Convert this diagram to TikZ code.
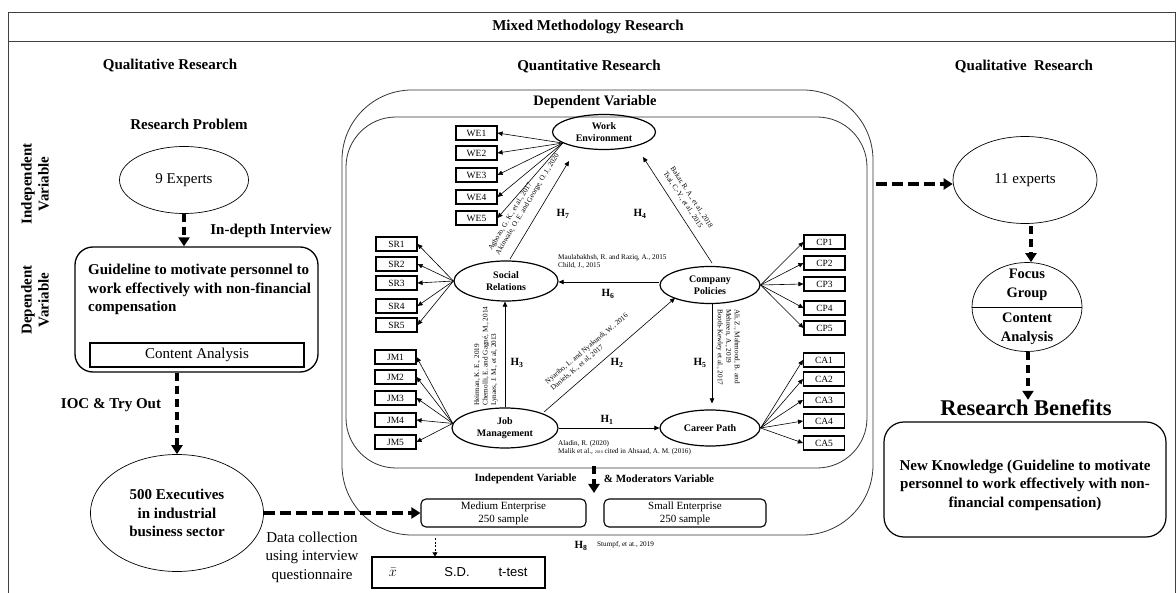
\documentclass[tikz,border=0pt]{standalone}
\usepackage{fontspec}
\setmainfont{Liberation Serif}
\newfontfamily\arialf{Liberation Sans}
\usetikzlibrary{shapes.geometric,arrows.meta,calc}
\newcommand\szXV{\fontsize{15}{18.5}\selectfont}
\newcommand\szXIV{\fontsize{14.5}{17}\selectfont}
\newcommand\szXI{\fontsize{11}{13}\selectfont}
\newcommand\szX{\fontsize{10}{12}\selectfont}
\newcommand\szIX{\fontsize{9.5}{11}\selectfont}
\newcommand\szcite{\fontsize{7.2}{8.5}\selectfont}
\newcommand\szbig{\fontsize{22.5}{26}\selectfont}
\begin{document}
\begin{tikzpicture}[x=1pt,y=-1pt,
  txt/.style={inner sep=0pt},
  hd/.style={inner sep=0pt,font=\szXV\bfseries},
  oval/.style={ellipse,draw,line width=0.7pt,inner sep=0pt,align=center},
  lat/.style={ellipse,draw,line width=1.2pt,inner sep=0pt,align=center,font=\szX\bfseries},
  ind/.style={draw,line width=1.1pt,minimum width=41pt,minimum height=14pt,inner sep=0pt,font=\szIX},
  marrow/.style={line width=0.6pt,-{Triangle[length=5pt,width=4.5pt]}},
  darrow/.style={line width=3.5pt,dash pattern=on 8pt off 5pt,-{Triangle[length=9pt,width=11pt]}},
  harrow/.style={line width=3.5pt,dash pattern=on 11pt off 5pt,-{Triangle[length=9pt,width=11pt]}},
  cite/.style={inner sep=0pt,font=\szcite,align=left},
  hlab/.style={inner sep=0pt,font=\szXI\bfseries},
  ebox/.style={draw,line width=1.1pt,rounded corners=5pt,minimum width=165pt,minimum height=28pt,inner sep=0pt,align=center,font=\szXI}
]
\useasboundingbox (0,0) rectangle (1176,593);
% frame
\draw[line width=1pt,black!75] (8,593) -- (8,13) -- (1175,13) -- (1175,593);
\draw[line width=1pt,black!75] (8,42) -- (1175,42);
\node[hd] (title) at (588,27) {Mixed Methodology Research};
\node[hd] (qual1) at (170,66) {Qualitative Research};
\node[hd] (quant) at (589,67) {Quantitative Research};
\node[hd] (qual2) at (1024,67) {Qualitative\ \ Research};

% left column
\node[hd] (rp) at (189,124) {Research Problem};
\node[hd,rotate=90,align=center,font=\fontsize{15}{17}\selectfont\bfseries] (indlab) at (35,184) {Independent\\Variable};
\node[hd,rotate=90,align=center,font=\fontsize{15}{17}\selectfont\bfseries] (deplab) at (35,300) {Dependent\\Variable};
\node[oval,minimum width=129pt,minimum height=67pt,font=\szXV] (exp9) at (184,180) {9 Experts};
\node[hd] (indepth) at (271,231) {In-depth Interview};
\node[draw,line width=1.3pt,rounded corners=18pt,minimum width=243pt,minimum height=125pt] (guide) at (196.5,309.5) {};
\node[txt,anchor=base west,align=left,font=\szXV\bfseries] (guidetxt) at (88,312) {Guideline to motivate personnel to\\work effectively with non-financial\\compensation};
\node[draw,line width=1.1pt,minimum width=214pt,minimum height=24pt,inner sep=0pt,font=\szXV] (cabox) at (197,355) {Content Analysis};
\node[hd] (ioc) at (111,405) {IOC \& Try Out};
\node[oval,minimum width=173pt,minimum height=117pt,font=\szXV\bfseries] (exec) at (177,513) {500 Executives\\in industrial\\business sector};
\node[txt,align=center,font=\szXV] (datacol) at (312,557) {Data collection\\using interview\\questionnaire};
\node[draw,line width=1.1pt,minimum width=173pt,minimum height=31pt,inner sep=0pt] (stats) at (458.5,572.5) {};
\node[txt,font=\szXV] (xbar) at (393,572) {$\bar{x}$};
\node[txt,font=\arialf\fontsize{13}{15}\selectfont] (sd) at (457,572) {S.D.};
\node[txt,font=\arialf\fontsize{13}{15}\selectfont] (ttest) at (513,572) {t-test};

\draw[darrow] (exp9.south) -- (exp9.south |- guide.north);
\draw[darrow] (exec.north |- guide.south) -- (exec.north);

% central boxes
\node[draw,line width=0.8pt,black!80,rounded corners=70pt,minimum width=531pt,minimum height=445pt] (outer) at (607.5,312.5) {};
\node[draw,line width=0.8pt,black!80,rounded corners=50pt,minimum width=521pt,minimum height=351pt] (inner) at (606.5,292.5) {};
\node[txt,font=\szXIV\bfseries] (dvlab) at (595,102) {Dependent Variable};

% latent variables
\node[lat,minimum width=103pt,minimum height=35pt] (we) at (604,132) {Work\\Environment};
\node[lat,minimum width=104pt,minimum height=40pt] (sr) at (506,281) {Social\\Relations};
\node[lat,minimum width=106pt,minimum height=40pt] (jm) at (505,428) {Job\\Management};
\node[lat,minimum width=100pt,minimum height=37pt] (cp) at (710,285) {Company\\Policies};
\node[lat,minimum width=100pt,minimum height=36pt] (cpath) at (710,428) {Career Path};

% indicators
\foreach \i/\y in {1/133,2/153,3/175,4/197,5/218} {\node[ind] (we\i) at (476.5,\y) {WE\i};}
\foreach \i/\y in {1/244,2/264,3/283,4/306,5/325} {\node[ind] (sr\i) at (396.5,\y) {SR\i};}
\foreach \i/\y in {1/357,2/377,3/398,4/420,5/442} {\node[ind] (jm\i) at (395.5,\y) {JM\i};}
\foreach \i/\y in {1/242,2/263,3/284,4/308,5/328} {\node[ind] (cp\i) at (824.5,\y) {CP\i};}
\foreach \i/\y in {1/360,2/379,3/400,4/421,5/443} {\node[ind] (ca\i) at (824,\y) {CA\i};}
\foreach \i in {1,...,5} {
  \draw[marrow] (we.195) -- (we\i.east);
  \draw[marrow] (sr.west) -- (sr\i.east);
  \draw[marrow] (jm.175) -- (jm\i.east);
  \draw[marrow] (cp.east) -- (cp\i.west);
  \draw[marrow] (cpath.east) -- (ca\i.west);
}

% structural paths
\draw[marrow] ($(sr.center)+(4,-22)$) -- ($(we.center)+(-35,29)$);
\draw[marrow] ($(cp.center)+(2,-22)$) -- ($(we.center)+(39,25)$);
\draw[marrow] ($(cp.west)+(0,-3)$) -- ($(sr.east)+(0,1)$);
\draw[marrow] (jm.north) -- (jm.north |- sr.south);
\draw[marrow] ($(jm.center)+(39,-16)$) -- ($(cp.center)+(-35,13)$);
\draw[marrow] ($(cp.south)+(2,0)$) -- ($(cpath.north)+(2,-6)$);
\draw[marrow] (jm.east) -- (cpath.west);

% hypothesis labels
\node[hlab] (h7) at (563,214) {H\textsubscript{7}};
\node[hlab] (h4) at (640,214) {H\textsubscript{4}};
\node[hlab] (h6) at (608,294) {H\textsubscript{6}};
\node[hlab] (h3) at (517,363) {H\textsubscript{3}};
\node[hlab] (h2) at (617,363) {H\textsubscript{2}};
\node[hlab] (h5) at (700,363) {H\textsubscript{5}};
\node[hlab] (h1) at (607,420) {H\textsubscript{1}};

% citations
\node[cite,rotate=59] (c7) at (524,202) {Agbozo, G. K., et al., 2017\\Akinwale, O. E. and George, O. J., 2020};
\node[cite,rotate=-57] (c4) at (688,200) {Bakar, R. A., et al., 2018\\Tsai, C.-Y., et al., 2015};
\node[cite,anchor=north west] (c6) at (558,254) {Maulabakhsh, R. and Raziq, A., 2015\\Child, J., 2015};
\node[cite,rotate=90,anchor=west] (c3) at (486,406) {Heirman, K. E., 2019\\Chemolli, E. and Gagné, M., 2014\\Lynaes, J. M., et al, 2013};
\node[cite,rotate=40,anchor=west] (c2) at (549,386) {Nyaribo, L. and Nyakundi, W., 2016\\Daniels, K., et al, 2017};
\node[cite,rotate=-90,anchor=west] (c5) at (728,309) {Ali, Z., Mahmood, B. and\\Mehreen, A., 2019\\Booth-Kewley et al., 2017};
\node[cite,anchor=north west] (c1) at (558,440) {Aladin, R. (2020)\\Malik et al., {\fontsize{4}{5}\selectfont 2010} cited in Ahsaad, A. M. (2016)};

% moderators
\node[txt,font=\szXI\bfseries] (ivlab) at (525.5,479) {Independent Variable};
\node[txt,font=\szXI\bfseries] (modlab) at (659,479) {\& Moderators Variable};
\coordinate (ivA) at (594,466);
\coordinate (ivB) at (594,493);
\draw[darrow] (ivA) -- (ivB);
\node[ebox] (med) at (503.5,513) {Medium Enterprise\\250 sample};
\node[ebox,minimum width=162pt] (small) at (685,513) {Small Enterprise\\250 sample};
\node[hlab] (h8) at (581,546) {H\textsubscript{8}};
\node[cite,anchor=west] (c8) at (597,545) {Stumpf, et at., 2019};
\draw[harrow] (exec.east |- med.west) -- (med.west);
\coordinate (dotA) at (435,538);
\draw[line width=1pt,dash pattern=on 2pt off 1.5pt,-{Triangle[length=4pt,width=5pt]}] (dotA) -- (dotA |- stats.north);

% right column
\node[oval,minimum width=144pt,minimum height=87pt,font=\szXV] (exp11) at (1025,180) {11 experts};
\draw[harrow,shorten <=3pt] (outer.east |- 0,184) -- (exp11.west |- 0,184);
\node[oval,minimum width=110pt,minimum height=89pt] (focus) at (1027,307) {};
\draw[line width=0.7pt] (focus.west) -- (focus.east);
\node[txt,align=center,font=\fontsize{14.5}{18.5}\selectfont\bfseries] (fg) at (1027,285) {Focus\\Group};
\node[txt,align=center,font=\fontsize{14.5}{18.5}\selectfont\bfseries] (fca) at (1027,329) {Content\\Analysis};
\draw[darrow] (1031,226) -- (focus.north -| 1031,0);
\node[txt,font=\szbig\bfseries] (rb) at (1026,408) {Research Benefits};
\draw[darrow] (focus.south -| 1028,0) -- (rb.north -| 1028,0);
\node[draw,line width=1.2pt,rounded corners=20pt,minimum width=282pt,minimum height=115pt] (nk) at (1025,479.5) {};
\node[txt,align=center,font=\szXV\bfseries] (nktxt) at (1025,485) {New Knowledge (Guideline to motivate\\personnel to work effectively with non-\\financial compensation)};
\end{tikzpicture}
\end{document}
